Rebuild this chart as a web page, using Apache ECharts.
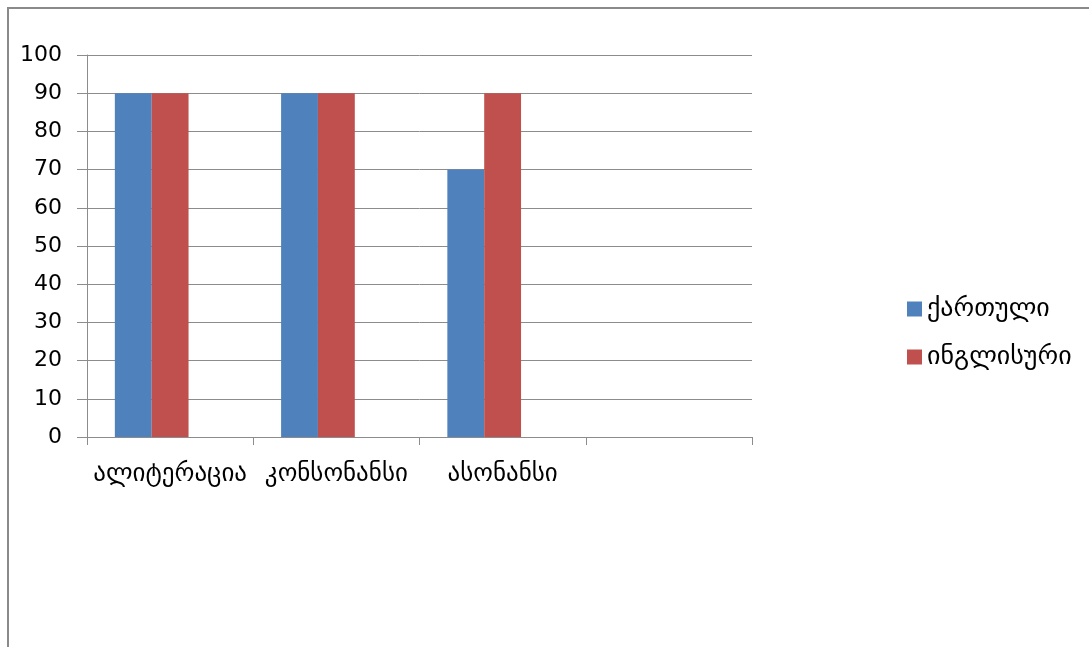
<!DOCTYPE html>
<html>
<head>
<meta charset="utf-8">
<script src="https://cdn.jsdelivr.net/npm/echarts@6/dist/echarts.min.js"></script>
<style>
  html, body { margin: 0; padding: 0; background: #ffffff; }
  #chart { width: 1089px; height: 647px; }
</style>
</head>
<body>
<div id="chart"></div>
<script>
// Categories along the x axis (the fourth slot is left empty)
const categories = ['ალიტერაცია', 'კონსონანსი', 'ასონანსი', ''];

// Series names and values
const seriesNames = ['ქართული', 'ინგლისური'];
const kartuli = [90, 90, 70, null];
const inglisuri = [90, 90, 90, null];

// Y axis scale
const yMin = 0;
const yMax = 100;
const yStep = 10;

const colors = ['#4F81BD', '#C0504D'];
const gridColor = '#8C8C8C';
const fontFamily = '"DejaVu Sans", sans-serif';

const chart = echarts.init(document.getElementById('chart'), null, { renderer: 'canvas' });

chart.setOption({
  animation: false,
  backgroundColor: '#ffffff',
  textStyle: { fontFamily: fontFamily, color: '#000000' },
  graphic: [{
    type: 'polyline',
    shape: { points: [[8, 647], [8, 8], [1089, 8]] },
    style: { stroke: '#8A8A8A', lineWidth: 2, fill: null }
  }],
  grid: { left: 87, right: 337, top: 55, bottom: 210, containLabel: false },
  legend: {
    data: seriesNames,
    orient: 'vertical',
    left: 902,
    top: 291,
    itemWidth: 15,
    itemHeight: 15,
    itemGap: 22,
    icon: 'rect',
    textStyle: { fontFamily: fontFamily, fontSize: 26, color: '#000000' }
  },
  xAxis: {
    type: 'category',
    data: categories,
    boundaryGap: true,
    axisLine: { show: true, lineStyle: { color: gridColor, width: 1 } },
    axisTick: { show: true, length: 8, alignWithLabel: false, lineStyle: { color: gridColor } },
    axisLabel: { margin: 25, fontSize: 25, color: '#000000', fontFamily: fontFamily, interval: 0 },
    splitLine: { show: false }
  },
  yAxis: {
    type: 'value',
    min: yMin,
    max: yMax,
    interval: yStep,
    axisLine: { show: true, lineStyle: { color: gridColor, width: 1 } },
    axisTick: { show: true, length: 10, lineStyle: { color: gridColor } },
    axisLabel: { margin: 25, fontSize: 22, color: '#000000', fontFamily: fontFamily },
    splitLine: { show: true, lineStyle: { color: gridColor, width: 1 } }
  },
  series: [
    {
      name: seriesNames[0],
      type: 'bar',
      data: kartuli,
      barGap: '0%',
      barCategoryGap: '33.5%',
      itemStyle: { color: colors[0] }
    },
    {
      name: seriesNames[1],
      type: 'bar',
      data: inglisuri,
      barGap: '0%',
      barCategoryGap: '33.5%',
      itemStyle: { color: colors[1] }
    },
    {
      // empty third slot kept in each group, as in the source workbook
      name: 'series3',
      type: 'bar',
      data: [],
      barGap: '0%',
      barCategoryGap: '33.5%'
    }
  ]
});
</script>
</body>
</html>
